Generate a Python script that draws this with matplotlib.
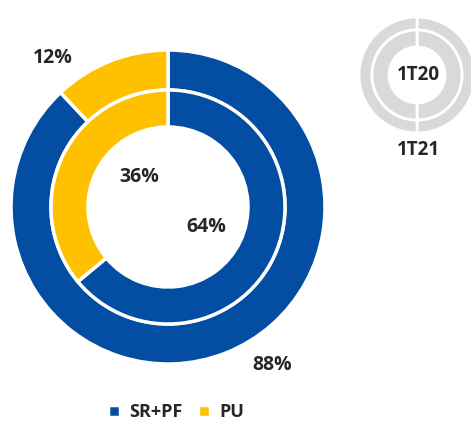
import matplotlib.pyplot as plt

# data
categories = ['SR+PF', 'PU']
share_1t21 = [88, 12]   # outer ring
share_1t20 = [64, 36]   # inner ring
period_labels = ['1T20', '1T21']
colors = ['#034EA2', '#FFC000']
grey = '#D9D9D9'
txt = '#262626'

plt.rcParams['font.family'] = ['Open Sans', 'DejaVu Sans']
plt.rcParams['font.weight'] = 'bold'

W, H = 471, 421
fig = plt.figure(figsize=(W / 100, H / 100), dpi=100)


def px_axes(cx, cy, half):
    # axes in pixel units centred at (cx, cy) from top-left
    ax = fig.add_axes([(cx - half) / W, (H - cy - half) / H, 2 * half / W, 2 * half / H])
    ax.axis('off')
    return ax


def fix_lims(ax, half):
    # pie() resets the limits, so put them back afterwards
    ax.set_xlim(-half, half)
    ax.set_ylim(-half, half)
    ax.set_aspect('equal')
    ax.axis('off')


# main donut
ax = px_axes(168, 207, 165)
outer, _ = ax.pie(share_1t21, radius=157, colors=colors, startangle=90, counterclock=False,
                  wedgeprops=dict(width=40, edgecolor='white', linewidth=2.5))
ax.pie(share_1t20, radius=117, colors=colors, startangle=90, counterclock=False,
       wedgeprops=dict(width=37, edgecolor='white', linewidth=2.5))
fix_lims(ax, 165)

fs = 14
ax.text(53 - 168, 207 - 58, f'{share_1t21[1]}%', ha='center', va='center', fontsize=fs, color=txt, fontweight='bold')
ax.text(272 - 168, 207 - 365, f'{share_1t21[0]}%', ha='center', va='center', fontsize=fs, color=txt, fontweight='bold')
ax.text(139 - 168, 207 - 177, f'{share_1t20[1]}%', ha='center', va='center', fontsize=fs, color=txt, fontweight='bold')
ax.text(206 - 168, 207 - 227, f'{share_1t20[0]}%', ha='center', va='center', fontsize=fs, color=txt, fontweight='bold')

# small key donut
ax2 = px_axes(417, 75, 62)
ax2.pie([50, 50], radius=58, colors=[grey, grey], startangle=90, counterclock=False,
        wedgeprops=dict(width=13, edgecolor='white', linewidth=2))
ax2.pie([50, 50], radius=45, colors=[grey, grey], startangle=90, counterclock=False,
        wedgeprops=dict(width=17, edgecolor='white', linewidth=2))
fix_lims(ax2, 62)
fig.text(418 / W, 1 - 75 / H, period_labels[0], ha='center', va='center', fontsize=13.5, color=txt, fontweight='bold')
fig.text(418 / W, 1 - 150 / H, period_labels[1], ha='center', va='center', fontsize=13.5, color=txt, fontweight='bold')

fig.legend(outer, categories, loc='center', bbox_to_anchor=(176 / W, 1 - 412 / H), ncol=2, frameon=False,
           handlelength=0.65, handleheight=0.65, handletextpad=0.5, columnspacing=0.9,
           prop=dict(size=13, weight='bold'), labelcolor=txt)

fig.savefig('out.png', dpi=100)
